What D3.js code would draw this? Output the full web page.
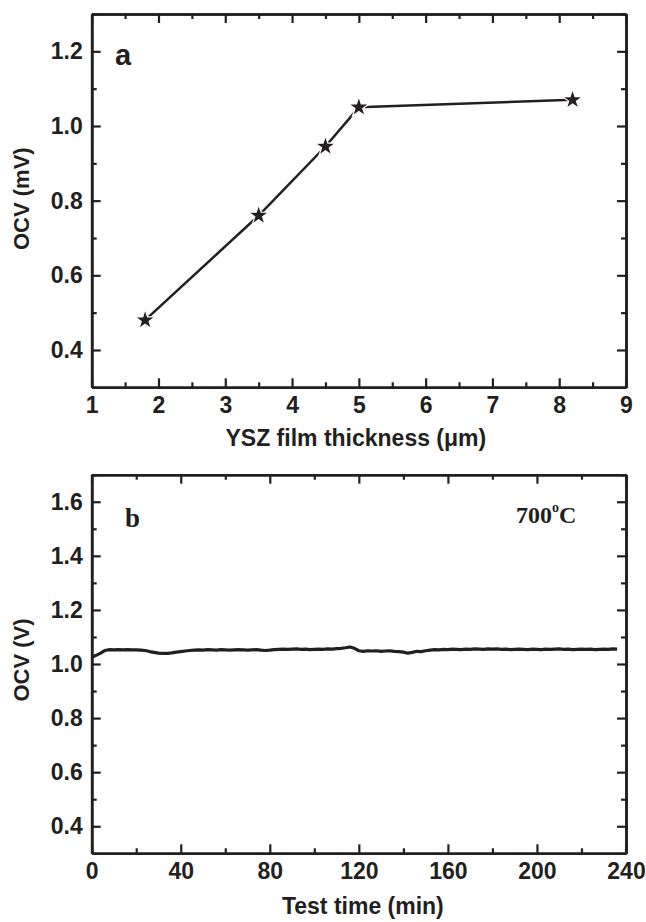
<!DOCTYPE html>
<html>
<head>
<meta charset="utf-8">
<script src="https://cdn.jsdelivr.net/npm/d3@7/dist/d3.min.js"></script>
<style>
  body { margin: 0; background: #fff; }
  text { font-family: "Liberation Sans", Arial, sans-serif; font-weight: bold; fill: #231f20; }
  .axis path, .axis line { stroke: #231f20; }
</style>
</head>
<body>
<svg id="chart" width="646" height="922"></svg>
<script>
'use strict';

// panel a : OCV vs film thickness
var thickness = [1.8, 3.5, 4.5, 5.0, 8.2];
var ocvA = [0.48, 0.76, 0.945, 1.05, 1.07];
var xTicksA = [1, 2, 3, 4, 5, 6, 7, 8, 9];
var yTicksA = [0.4, 0.6, 0.8, 1.0, 1.2];

// panel b : OCV vs test time at 700 C
var timeB = [0, 2, 4, 6, 8, 10, 12, 14, 16, 18, 20, 22, 24, 26, 28, 30, 32, 34, 36, 38,
  40, 42, 44, 46, 48, 50, 52, 54, 56, 58, 60, 62, 64, 66, 68, 70, 72, 74, 76, 78,
  80, 82, 84, 86, 88, 90, 92, 94, 96, 98, 100, 102, 104, 106, 108, 110, 112, 114, 116, 118,
  120, 122, 124, 126, 128, 130, 132, 134, 136, 138, 140, 142, 144, 146, 148, 150, 152, 154, 156, 158,
  160, 162, 164, 166, 168, 170, 172, 174, 176, 178, 180, 182, 184, 186, 188, 190, 192, 194, 196, 198,
  200, 202, 204, 206, 208, 210, 212, 214, 216, 218, 220, 222, 224, 226, 228, 230, 232, 234, 236];
var ocvB = [1.025, 1.032, 1.040, 1.050, 1.053, 1.052, 1.053, 1.052, 1.053, 1.052,
  1.052, 1.051, 1.050, 1.046, 1.043, 1.040, 1.039, 1.039, 1.041, 1.044,
  1.046, 1.048, 1.050, 1.051, 1.052, 1.051, 1.053, 1.052, 1.051, 1.053,
  1.052, 1.051, 1.052, 1.053, 1.052, 1.051, 1.052, 1.053, 1.051, 1.050,
  1.051, 1.053, 1.054, 1.055, 1.054, 1.055, 1.056, 1.054, 1.055, 1.053,
  1.054, 1.055, 1.054, 1.056, 1.055, 1.057, 1.058, 1.060, 1.063, 1.058,
  1.049, 1.047, 1.049, 1.048, 1.049, 1.047, 1.048, 1.049, 1.047, 1.046,
  1.044, 1.040, 1.043, 1.047, 1.046, 1.049, 1.051, 1.053, 1.052, 1.054,
  1.053, 1.055, 1.054, 1.053, 1.055, 1.054, 1.056, 1.055, 1.054, 1.056,
  1.055, 1.056, 1.054, 1.055, 1.053, 1.054, 1.055, 1.054, 1.053, 1.055,
  1.054, 1.053, 1.055, 1.054, 1.055, 1.056, 1.054, 1.055, 1.053, 1.054,
  1.055, 1.054, 1.055, 1.053, 1.054, 1.055, 1.054, 1.056, 1.055];
var xTicksB = [0, 40, 80, 120, 160, 200, 240];
var yTicksB = [0.4, 0.6, 0.8, 1.0, 1.2, 1.4, 1.6];

var ink = '#231f20';
var sans = '"Liberation Sans", Arial, sans-serif';
var serif = '"Liberation Serif", "Times New Roman", serif';
var svg = d3.select('#chart');

function drawFrame(g, x, y, xMajor, xMinor, yMajor, yMinor, xFmt, yFmt) {
  var w = x.range()[1] - x.range()[0],
      h = y.range()[0] - y.range()[1];

  // minor ticks on all sides
  g.append('g').attr('class', 'axis').attr('transform', 'translate(0,' + h + ')')
    .call(d3.axisBottom(x).tickValues(xMinor).tickSize(-5).tickSizeOuter(0).tickFormat(''));
  g.append('g').attr('class', 'axis')
    .call(d3.axisTop(x).tickValues(xMinor).tickSize(-5).tickSizeOuter(0).tickFormat(''));
  g.append('g').attr('class', 'axis')
    .call(d3.axisLeft(y).tickValues(yMinor).tickSize(-5).tickSizeOuter(0).tickFormat(''));
  g.append('g').attr('class', 'axis').attr('transform', 'translate(' + w + ',0)')
    .call(d3.axisRight(y).tickValues(yMinor).tickSize(-5).tickSizeOuter(0).tickFormat(''));

  // major ticks + labels
  g.append('g').attr('class', 'axis').attr('transform', 'translate(0,' + h + ')')
    .call(d3.axisBottom(x).tickValues(xMajor).tickSize(-9).tickSizeOuter(0).tickPadding(9).tickFormat(xFmt));
  g.append('g').attr('class', 'axis')
    .call(d3.axisTop(x).tickValues(xMajor).tickSize(-9).tickSizeOuter(0).tickFormat(''));
  g.append('g').attr('class', 'axis')
    .call(d3.axisLeft(y).tickValues(yMajor).tickSize(-9).tickSizeOuter(0).tickPadding(9).tickFormat(yFmt));
  g.append('g').attr('class', 'axis').attr('transform', 'translate(' + w + ',0)')
    .call(d3.axisRight(y).tickValues(yMajor).tickSize(-9).tickSizeOuter(0).tickFormat(''));

  g.selectAll('.axis path').attr('stroke-width', 2.6);
  g.selectAll('.axis line').attr('stroke-width', 2.2);
  g.selectAll('.axis text').attr('fill', ink).style('font-family', sans)
    .style('font-size', '23px').style('font-weight', 'bold');
}

function range(a, b, step) {
  return d3.range(Math.round((b - a) / step) + 1).map(function(i) { return +(a + i * step).toFixed(3); });
}

var left = 91.7, right = 626;

// ---------- panel a ----------
var topA = 14, botA = 387.3;
var gA = svg.append('g').attr('transform', 'translate(' + left + ',' + topA + ')');
var xA = d3.scaleLinear().domain([1, 9]).range([0, right - left]);
var yA = d3.scaleLinear().domain([0.3, 1.3]).range([botA - topA, 0]);

drawFrame(gA, xA, yA, xTicksA, range(1.5, 8.5, 1), yTicksA, range(0.5, 1.3, 0.2),
  d3.format('d'), d3.format('.1f'));

gA.append('path')
  .datum(d3.zip(thickness, ocvA))
  .attr('fill', 'none')
  .attr('stroke', ink)
  .attr('stroke-width', 2.5)
  .attr('d', d3.line().x(function(d) { return xA(d[0]); }).y(function(d) { return yA(d[1]); }));

gA.selectAll('.star')
  .data(d3.zip(thickness, ocvA))
  .enter().append('path')
  .attr('class', 'star')
  .attr('transform', function(d) { return 'translate(' + xA(d[0]) + ',' + yA(d[1]) + ')'; })
  .attr('d', d3.symbol().type(d3.symbolStar).size(130))
  .attr('fill', ink)
  .attr('stroke', '#fff')
  .attr('stroke-width', 1.2);

svg.append('text').attr('x', 115).attr('y', 65)
  .style('font-family', sans).style('font-size', '29px').text('a');

svg.append('text')
  .attr('transform', 'translate(' + ((left + right) / 2 - 3) + ',446)')
  .attr('text-anchor', 'middle').style('font-family', sans).style('font-size', '23px')
  .text('YSZ film thickness (\u03bcm)');

svg.append('text')
  .attr('transform', 'translate(28.5,' + ((topA + botA) / 2 - 2) + ') rotate(-90)')
  .attr('text-anchor', 'middle').style('font-family', sans).style('font-size', '22px')
  .text('OCV (mV)');

// ---------- panel b ----------
var topB = 474.7, botB = 853.3;
var gB = svg.append('g').attr('transform', 'translate(' + left + ',' + topB + ')');
var xB = d3.scaleLinear().domain([0, 240]).range([0, right - left]);
var yB = d3.scaleLinear().domain([0.3, 1.7]).range([botB - topB, 0]);

drawFrame(gB, xB, yB, xTicksB, range(20, 220, 40), yTicksB, range(0.5, 1.7, 0.2),
  d3.format('d'), d3.format('.1f'));

gB.append('path')
  .datum(d3.zip(timeB, ocvB))
  .attr('fill', 'none')
  .attr('stroke', ink)
  .attr('stroke-width', 3.2)
  .attr('stroke-linejoin', 'round')
  .attr('d', d3.line().x(function(d) { return xB(d[0]); }).y(function(d) { return yB(d[1]); }));

svg.append('text').attr('x', 125).attr('y', 527)
  .style('font-family', serif).style('font-size', '27px').text('b');

var tLabel = svg.append('text').attr('x', 516).attr('y', 523)
  .style('font-family', serif).style('font-size', '24px');
tLabel.append('tspan').text('700');
tLabel.append('tspan').attr('dy', -11).style('font-size', '14px').text('o');
tLabel.append('tspan').attr('dy', 11).text('C');

svg.append('text')
  .attr('transform', 'translate(' + ((left + right) / 2 + 4) + ',914)')
  .attr('text-anchor', 'middle').style('font-family', sans).style('font-size', '23px')
  .text('Test time (min)');

svg.append('text')
  .attr('transform', 'translate(28.5,' + 660 + ') rotate(-90)')
  .attr('text-anchor', 'middle').style('font-family', sans).style('font-size', '22px')
  .text('OCV (V)');
</script>
</body>
</html>
